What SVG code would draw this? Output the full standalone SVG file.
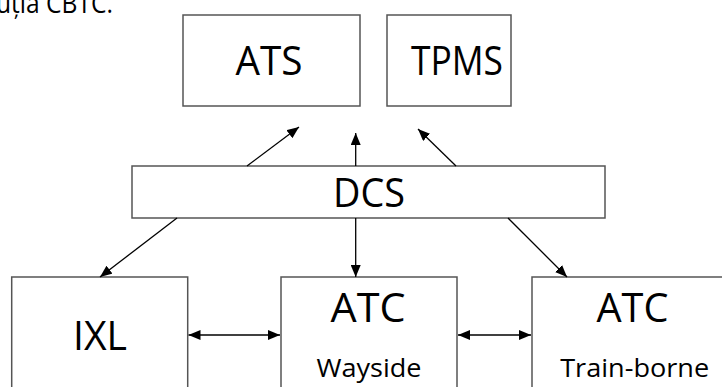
<svg xmlns="http://www.w3.org/2000/svg" width="722" height="387" viewBox="0 0 722 387">
<style>
.box{fill:#fff;stroke:#555;stroke-width:1.5}
.t{font-family:"Open Sans","Noto Sans",sans-serif;fill:#000;text-anchor:middle}
.big{font-size:41px}
.sm{font-size:26px}
.ln{stroke:#000;stroke-width:1.3;fill:none}
</style>
<defs>
<marker id="ah" viewBox="0 0 12 10" refX="12" refY="5" markerWidth="12" markerHeight="10" markerUnits="userSpaceOnUse" orient="auto-start-reverse">
<path d="M0,0 L12,5 L0,10 z" fill="#000"/>
</marker>
</defs>
<text class="t" x="-4" y="13" style="text-anchor:start;font-size:27px" textLength="117" lengthAdjust="spacingAndGlyphs">uția CBTC.</text>
<g id="ATS"><rect class="box" x="183" y="15" width="177" height="91"/><text class="t big" x="269" y="75" textLength="67" lengthAdjust="spacingAndGlyphs">ATS</text></g>
<g id="TPMS"><rect class="box" x="387" y="15" width="124" height="91"/><text class="t big" x="457" y="75" textLength="92" lengthAdjust="spacingAndGlyphs">TPMS</text></g>
<g id="DCS"><rect class="box" x="132" y="166" width="473" height="52"/><text class="t big" x="369" y="207" textLength="72" lengthAdjust="spacingAndGlyphs">DCS</text></g>
<g id="IXL"><rect class="box" x="11.7" y="277" width="176" height="130"/><text class="t big" x="100" y="350" textLength="54" lengthAdjust="spacingAndGlyphs">IXL</text></g>
<g id="ATC_Wayside"><rect class="box" x="281" y="277" width="176" height="130"/><text class="t big" x="368" y="322" textLength="75" lengthAdjust="spacingAndGlyphs">ATC</text><text class="t sm" x="369" y="377" textLength="105" lengthAdjust="spacingAndGlyphs">Wayside</text></g>
<g id="ATC_Trainborne"><rect class="box" x="532" y="277" width="200" height="130"/><text class="t big" x="632.5" y="322" textLength="72" lengthAdjust="spacingAndGlyphs">ATC</text><text class="t sm" x="634.7" y="377" textLength="149" lengthAdjust="spacingAndGlyphs">Train-borne</text></g>
<g id="connectors">
<line class="ln" x1="247" y1="166" x2="299" y2="127" marker-end="url(#ah)"/>
<line class="ln" x1="355.7" y1="166" x2="355.7" y2="133" marker-end="url(#ah)"/>
<line class="ln" x1="456" y1="166" x2="418" y2="129" marker-end="url(#ah)"/>
<line class="ln" x1="177" y1="218" x2="100" y2="277" marker-end="url(#ah)"/>
<line class="ln" x1="355.7" y1="218" x2="355.7" y2="277" marker-end="url(#ah)"/>
<line class="ln" x1="508" y1="218" x2="567" y2="277" marker-end="url(#ah)"/>
<line class="ln" x1="188.5" y1="335" x2="280" y2="335" marker-start="url(#ah)" marker-end="url(#ah)"/>
<line class="ln" x1="458" y1="335" x2="531" y2="335" marker-start="url(#ah)" marker-end="url(#ah)"/>
</g>
</svg>
